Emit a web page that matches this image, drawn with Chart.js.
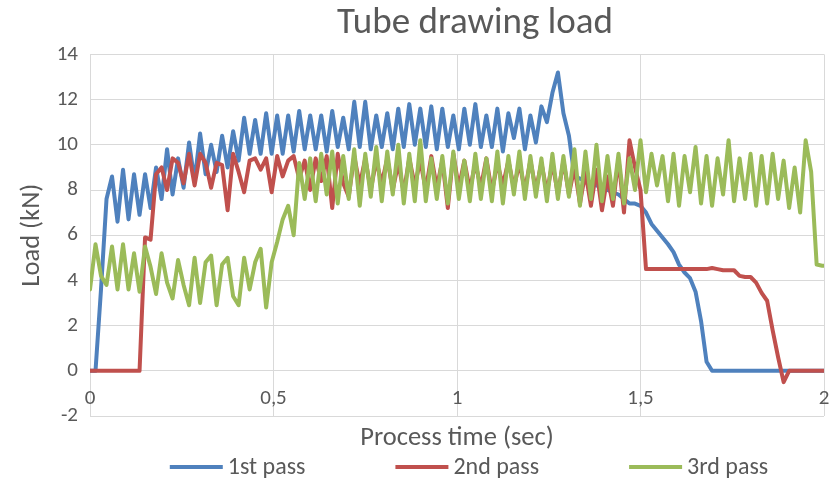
<!DOCTYPE html>
<html><head><meta charset="utf-8">
<script src="https://cdn.jsdelivr.net/npm/chart.js@4.4.1/dist/chart.umd.min.js"></script>
<style>html,body{margin:0;padding:0;background:#fff;}canvas{display:block;}</style>
</head><body>
<canvas id="c" width="834" height="479"></canvas>
<script>
// sampling interval of the recorded load (sec)
const timeStep = 0.015;

const seriesNames = ['1st pass', '2nd pass', '3rd pass'];
const xTickLabels = ['0', '0,5', '1', '1,5', '2'];

const pass1 = [
  0, 0, 3.6, 7.6, 8.6, 6.6, 8.9, 6.7, 8.7, 6.9,
  8.7, 7.2, 9.0, 7.6, 9.8, 7.8, 9.4, 8.1, 10.1, 8.4,
  10.5, 8.7, 10.0, 8.8, 10.4, 9.0, 10.6, 9.3, 11.2, 9.6,
  11.1, 9.6, 11.4, 9.6, 11.3, 9.6, 11.3, 9.7, 11.5, 9.8,
  11.3, 9.8, 11.3, 9.7, 11.5, 9.9, 11.2, 9.8, 11.9, 9.9,
  11.9, 9.8, 11.3, 9.9, 11.4, 9.8, 11.6, 9.9, 11.8, 10.0,
  11.6, 9.9, 11.7, 9.8, 11.6, 9.9, 11.3, 9.8, 11.6, 10.0,
  11.8, 9.9, 11.3, 9.9, 11.6, 9.7, 11.4, 10.3, 11.6, 9.8,
  11.3, 10.1, 11.7, 11.0, 12.3, 13.2, 11.4, 10.4, 8.6, 8.5,
  8.4, 8.3, 8.2, 8.1, 8.0, 7.9, 7.8, 7.6, 7.4, 7.4,
  7.3, 7.0, 6.5, 6.2, 5.9, 5.6, 5.25, 4.7, 4.35, 4.1,
  3.5, 2.2, 0.4, 0, 0, 0, 0, 0, 0, 0,
  0, 0, 0, 0, 0, 0, 0, 0, 0, 0,
  0, 0, 0, 0, 0
];

const pass2 = [
  0, 0, 0, 0, 0, 0, 0, 0, 0, 0,
  5.9, 5.8, 8.7, 9.0, 8.0, 9.4, 9.2, 8.3, 9.6, 8.2,
  9.6, 9.2, 8.1, 9.2, 9.1, 7.1, 9.6, 8.8, 7.9, 9.3,
  9.4, 8.9, 9.4, 7.9, 9.5, 8.6, 9.3, 9.5, 8.5, 9.3,
  8.0, 9.4, 8.4, 9.5, 7.2, 9.6, 8.3, 7.7, 9.5, 8.2,
  9.4, 8.0, 9.3, 8.3, 9.4, 8.0, 9.2, 7.9, 9.4, 8.2,
  9.3, 8.0, 9.5, 8.1, 9.3, 7.2, 9.6, 8.1, 9.3, 8.0,
  9.2, 8.1, 9.4, 7.9, 9.2, 8.2, 9.3, 8.1, 9.2, 8.0,
  9.3, 8.0, 9.2, 7.9, 9.2, 7.8, 9.3, 7.8, 9.0, 7.4,
  8.8, 7.3, 8.9, 7.1, 8.6, 7.3, 9.4, 7.0, 10.2, 9.0,
  8.0, 4.5, 4.5, 4.5, 4.5, 4.5, 4.5, 4.5, 4.5, 4.5,
  4.5, 4.5, 4.5, 4.55, 4.5, 4.45, 4.45, 4.45, 4.2, 4.15,
  4.15, 3.9, 3.45, 3.1, 1.8, 0.6, -0.5, 0, 0, 0,
  0, 0, 0, 0, 0
];

const pass3 = [
  3.6, 5.6, 4.2, 3.8, 5.5, 3.6, 5.6, 3.6, 5.2, 3.5,
  5.5, 4.6, 3.4, 5.2, 3.9, 3.2, 4.9, 3.8, 2.9, 5.0,
  3.0, 4.8, 5.1, 2.9, 4.7, 5.0, 3.3, 2.9, 5.0, 3.6,
  4.8, 5.4, 2.8, 4.8, 5.7, 6.7, 7.3, 6.0, 9.2, 7.6,
  9.4, 7.5, 9.6, 7.8, 9.7, 7.4, 9.5, 7.6, 9.8, 7.3,
  9.6, 7.7, 9.9, 7.5, 9.7, 7.8, 10.0, 7.4, 9.6, 7.5,
  10.2, 7.5, 9.4, 7.6, 9.5, 7.4, 9.7, 7.6, 9.3, 7.5,
  9.6, 7.6, 9.4, 7.5, 9.7, 7.4, 9.5, 7.8, 9.7, 7.6,
  9.5, 7.7, 9.4, 7.5, 9.6, 7.6, 9.5, 7.7, 9.8, 7.3,
  9.7, 7.6, 10.0, 7.5, 9.5, 7.6, 9.6, 7.4, 9.4, 8.0,
  10.2, 7.9, 9.6, 8.2, 9.5, 7.5, 9.6, 7.3, 9.5, 7.9,
  9.9, 7.4, 9.5, 7.3, 9.4, 7.8, 10.2, 7.5, 9.4, 7.6,
  9.6, 7.3, 9.5, 7.4, 9.6, 7.6, 9.3, 7.2, 9.0, 7.0,
  10.2, 8.8, 4.7, 4.65, 4.65
];

const seriesColors = ['#4F81BD', '#C0504D', '#9BBB59'];

const FONT = 'Carlito, Calibri, Lato, "Open Sans", sans-serif';
const TXT = '#595959';
const GRID = '#D9D9D9';

function toPoints(vals) {
  return vals.map((v, i) => ({ x: Math.round(i * timeStep * 1000) / 1000, y: v }));
}

const legendPlugin = {
  id: 'bottomLegend',
  afterDraw(chart) {
    const ctx = chart.ctx;
    ctx.save();
    ctx.font = '24px ' + FONT;
    const lineW = 53, gap = 5, itemGap = 90;
    const items = chart.data.datasets.map(ds => ({
      label: ds.label, color: ds.borderColor,
      w: lineW + gap + ctx.measureText(ds.label).width
    }));
    const total = items.reduce((s, it) => s + it.w, 0) + itemGap * (items.length - 1);
    let x = 469 - total / 2;
    const y = 467;
    items.forEach(it => {
      ctx.strokeStyle = it.color;
      ctx.lineWidth = 4;
      ctx.beginPath(); ctx.moveTo(x, y); ctx.lineTo(x + lineW, y); ctx.stroke();
      ctx.fillStyle = TXT; ctx.textBaseline = 'middle'; ctx.textAlign = 'left';
      ctx.fillText(it.label, x + lineW + gap, y + 1);
      x += it.w + itemGap;
    });
    ctx.restore();
  }
};

// the reference title sits right of centre
const titleShift = {
  id: 'titleShift',
  afterLayout(chart) {
    const t = chart.titleBlock;
    if (t) { t.left += 63; t.right += 63; }
  }
};

const allSeries = [pass1, pass2, pass3];
new Chart(document.getElementById('c'), {
  type: 'line',
  data: {
    datasets: allSeries.map((vals, k) => ({
      label: seriesNames[k],
      data: toPoints(vals),
      borderColor: seriesColors[k],
      backgroundColor: seriesColors[k],
      borderWidth: 4,
      pointRadius: 0,
      fill: false,
      tension: 0,
      borderJoinStyle: 'round',
      borderCapStyle: 'round',
      order: 3 - k,
      xAxisID: 'x',
      yAxisID: 'y'
    }))
  },
  options: {
    responsive: false,
    animation: false,
    layout: { padding: { left: 0, right: 10, top: 0, bottom: 23 } },
    plugins: {
      legend: { display: false },
      tooltip: { enabled: false },
      title: {
        display: true, text: 'Tube drawing load', color: TXT,
        font: { family: FONT, size: 37, weight: 'normal' },
        padding: { top: 2, bottom: 8 }
      }
    },
    scales: {
      x: {
        type: 'linear', min: 0, max: 2, position: 'bottom',
        ticks: { display: false, stepSize: 0.5 },
        grid: { color: GRID, lineWidth: 1, drawTicks: false },
        border: { display: false },
        title: { display: true, text: 'Process time (sec)', color: TXT,
          font: { family: FONT, size: 26.5 }, padding: { top: 0, bottom: 2 } },
        afterFit(s) { s.height = 40; s.paddingLeft = 0; s.paddingRight = 0; }
      },
      x0: {
        type: 'linear', axis: 'x', min: 0, max: 2, position: { y: 0 },
        ticks: { stepSize: 0.5, color: TXT, font: { family: FONT, size: 21 }, padding: 15,
          maxRotation: 0, autoSkip: false,
          callback: (v) => { const k = Math.round(v / 0.5); return xTickLabels[k] !== undefined ? xTickLabels[k] : ''; } },
        grid: { display: false, drawTicks: false },
        border: { display: false },
        afterFit(s) { s.paddingLeft = 0; s.paddingRight = 0; }
      },
      y: {
        type: 'linear', min: -2, max: 14,
        ticks: { stepSize: 2, color: TXT, font: { family: FONT, size: 21 }, padding: 12 },
        grid: { color: GRID, lineWidth: 1, drawTicks: false },
        border: { display: false },
        title: { display: true, text: 'Load (kN)', color: TXT,
          font: { family: FONT, size: 26.5 }, padding: { top: 16, bottom: 0 } },
        afterFit(s) { s.width = 90; }
      }
    }
  },
  plugins: [legendPlugin, titleShift]
});
</script>
</body></html>
